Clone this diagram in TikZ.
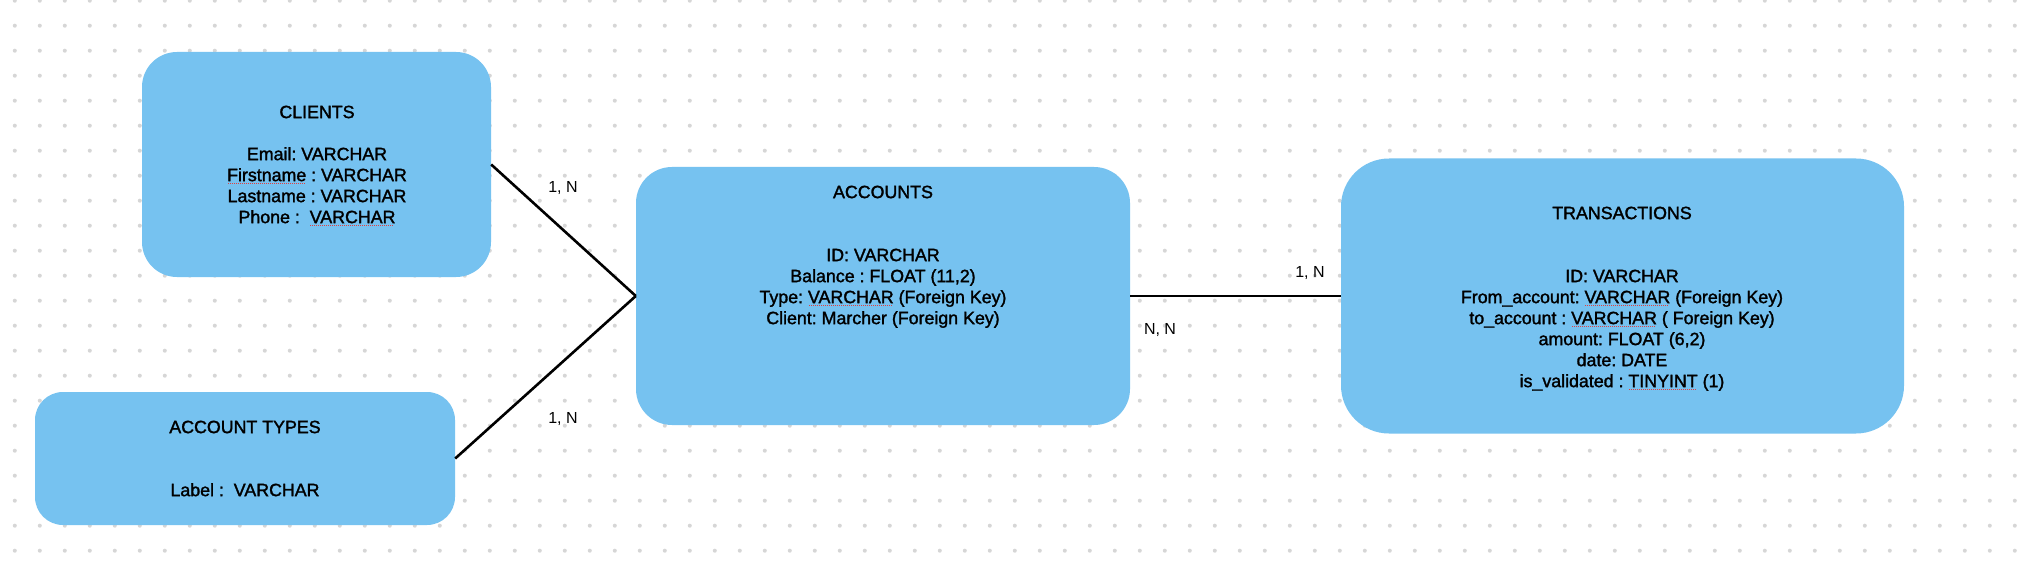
\documentclass[tikz,border=0pt]{standalone}
\usepackage{fontspec}
\setmainfont{Liberation Sans}
\newfontfamily\medsans{Liberation Sans}[FakeBold=1.6]
\definecolor{boxblue}{HTML}{76C2F0}
\definecolor{griddot}{HTML}{D6D6D6}
\definecolor{spellred}{HTML}{E04040}
\newcommand\spellmark[1]{\setbox0=\hbox{#1}\rlap{\raisebox{-2.6pt}{\textcolor{spellred}{\leaders\hbox to 2pt{\hss\rule{1pt}{1pt}\hss}\hskip\wd0}}}#1}
\frenchspacing
\begin{document}
\begin{tikzpicture}[x=1pt,y=-1pt,
  entity/.style={fill=boxblue, draw=none, inner sep=0pt, rectangle},
  fields/.style={anchor=north, align=center, inner sep=0pt, font=\medsans\fontsize{17.8}{21}\selectfont},
  card/.style={inner sep=0pt, font=\fontsize{16}{19}\selectfont},
  link/.style={draw=black, line width=2.6pt}
]
\fill[white] (0,0) rectangle (2034,564);
\useasboundingbox (0,0) rectangle (2034,564);
% dot grid
\fill[griddot] \foreach \i in {0,...,81} { \foreach \j in {0,...,22} { (14.8+25*\i, 0.7+25*\j) circle (2pt) } };
% entity boxes
\node[entity, rounded corners=35pt, minimum width=349pt, minimum height=225pt] (clients) at (316.5,164.5) {};
\node[entity, rounded corners=28pt, minimum width=420pt, minimum height=133pt] (types) at (245,458.5) {};
\node[entity, rounded corners=36pt, minimum width=494pt, minimum height=258pt] (accounts) at (883,296) {};
\node[entity, rounded corners=48pt, minimum width=563pt, minimum height=275pt] (transactions) at (1622.5,296) {};
% texts
\node[fields] (clientstext) at (317,105.5) {CLIENTS\\[21pt]Email: VARCHAR\\\spellmark{Firstname} : VARCHAR\\Lastname : VARCHAR\\Phone :~~\spellmark{VARCHAR}};
\node[fields] (typestext) at (245,420.5) {ACCOUNT TYPES\\[42pt]Label :~~VARCHAR};
\node[fields] (accountstext) at (883,185.5) {ACCOUNTS\\[42pt]ID: VARCHAR\\Balance : FLOAT (11,2)\\Type: \spellmark{VARCHAR} (Foreign Key)\\Client: Marcher (Foreign Key)};
\node[fields] (transactionstext) at (1622,206.5) {TRANSACTIONS\\[42pt]ID: VARCHAR\\From\_account: \spellmark{VARCHAR} (Foreign Key)\\to\_account : \spellmark{VARCHAR} ( Foreign Key)\\amount: FLOAT (6,2)\\date: DATE\\is\_validated : \spellmark{TINYINT} (1)};
% connectors
\draw[link] (clients.east) -- (accounts.west);
\draw[link] (types.east) -- (accounts.west);
\draw[link] (accounts.east) -- (transactions.west);
% cardinalities
\node[card] (c1) at (563,188) {1, N};
\node[card] (c2) at (563,419) {1, N};
\node[card] (c3) at (1310,273) {1, N};
\node[card] (c4) at (1160,330) {N, N};
\end{tikzpicture}
\end{document}
